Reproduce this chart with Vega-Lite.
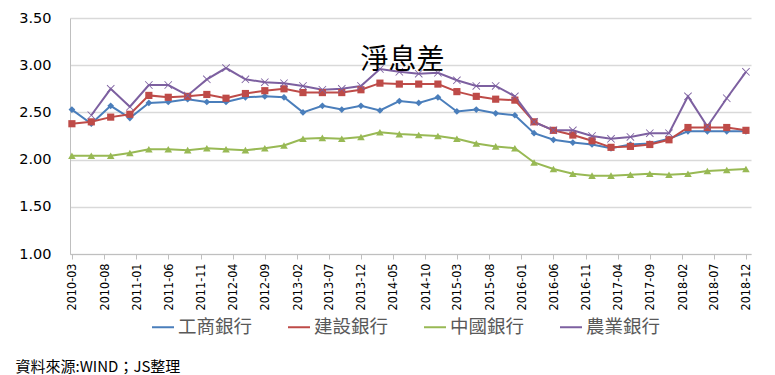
{
  "$schema": "https://vega.github.io/schema/vega-lite/v6.json",
  "width": 681,
  "height": 236,
  "autosize": {"type": "none"},
  "padding": {"left": 70, "top": 18, "right": 24, "bottom": 121},
  "background": "white",
  "title": {"text": "淨息差", "font": "Noto Sans CJK TC", "fontSize": 28, "fontWeight": "normal", "color": "#000000", "anchor": "middle", "dx": -8, "dy": 69},
  "data": {"values": [
    {"d": "2010-03-01", "工商銀行": 2.53, "建設銀行": 2.38, "中國銀行": 2.04},
    {"d": "2010-06-01", "工商銀行": 2.38, "建設銀行": 2.40, "中國銀行": 2.04, "農業銀行": 2.47},
    {"d": "2010-09-01", "工商銀行": 2.57, "建設銀行": 2.45, "中國銀行": 2.04, "農業銀行": 2.75},
    {"d": "2010-12-01", "工商銀行": 2.44, "建設銀行": 2.48, "中國銀行": 2.07, "農業銀行": 2.56},
    {"d": "2011-03-01", "工商銀行": 2.60, "建設銀行": 2.68, "中國銀行": 2.11, "農業銀行": 2.79},
    {"d": "2011-06-01", "工商銀行": 2.61, "建設銀行": 2.66, "中國銀行": 2.11, "農業銀行": 2.79},
    {"d": "2011-09-01", "工商銀行": 2.64, "建設銀行": 2.67, "中國銀行": 2.10, "農業銀行": 2.68},
    {"d": "2011-12-01", "工商銀行": 2.61, "建設銀行": 2.69, "中國銀行": 2.12, "農業銀行": 2.85},
    {"d": "2012-03-01", "工商銀行": 2.61, "建設銀行": 2.65, "中國銀行": 2.11, "農業銀行": 2.97},
    {"d": "2012-06-01", "工商銀行": 2.66, "建設銀行": 2.70, "中國銀行": 2.10, "農業銀行": 2.85},
    {"d": "2012-09-01", "工商銀行": 2.67, "建設銀行": 2.73, "中國銀行": 2.12, "農業銀行": 2.82},
    {"d": "2012-12-01", "工商銀行": 2.66, "建設銀行": 2.75, "中國銀行": 2.15, "農業銀行": 2.81},
    {"d": "2013-03-01", "工商銀行": 2.50, "建設銀行": 2.71, "中國銀行": 2.22, "農業銀行": 2.78},
    {"d": "2013-06-01", "工商銀行": 2.57, "建設銀行": 2.71, "中國銀行": 2.23, "農業銀行": 2.74},
    {"d": "2013-09-01", "工商銀行": 2.53, "建設銀行": 2.71, "中國銀行": 2.22, "農業銀行": 2.75},
    {"d": "2013-12-01", "工商銀行": 2.57, "建設銀行": 2.74, "中國銀行": 2.24, "農業銀行": 2.78},
    {"d": "2014-03-01", "工商銀行": 2.52, "建設銀行": 2.81, "中國銀行": 2.29, "農業銀行": 2.96},
    {"d": "2014-06-01", "工商銀行": 2.62, "建設銀行": 2.80, "中國銀行": 2.27, "農業銀行": 2.93},
    {"d": "2014-09-01", "工商銀行": 2.60, "建設銀行": 2.80, "中國銀行": 2.26, "農業銀行": 2.91},
    {"d": "2014-12-01", "工商銀行": 2.66, "建設銀行": 2.80, "中國銀行": 2.25, "農業銀行": 2.92},
    {"d": "2015-03-01", "工商銀行": 2.51, "建設銀行": 2.72, "中國銀行": 2.22, "農業銀行": 2.84},
    {"d": "2015-06-01", "工商銀行": 2.53, "建設銀行": 2.67, "中國銀行": 2.17, "農業銀行": 2.78},
    {"d": "2015-09-01", "工商銀行": 2.49, "建設銀行": 2.64, "中國銀行": 2.14, "農業銀行": 2.78},
    {"d": "2015-12-01", "工商銀行": 2.47, "建設銀行": 2.63, "中國銀行": 2.12, "農業銀行": 2.67},
    {"d": "2016-03-01", "工商銀行": 2.28, "建設銀行": 2.40, "中國銀行": 1.97, "農業銀行": 2.40},
    {"d": "2016-06-01", "工商銀行": 2.21, "建設銀行": 2.31, "中國銀行": 1.90, "農業銀行": 2.31},
    {"d": "2016-09-01", "工商銀行": 2.18, "建設銀行": 2.26, "中國銀行": 1.85, "農業銀行": 2.31},
    {"d": "2016-12-01", "工商銀行": 2.16, "建設銀行": 2.20, "中國銀行": 1.83, "農業銀行": 2.25},
    {"d": "2017-03-01", "工商銀行": 2.12, "建設銀行": 2.13, "中國銀行": 1.83, "農業銀行": 2.22},
    {"d": "2017-06-01", "工商銀行": 2.16, "建設銀行": 2.14, "中國銀行": 1.84, "農業銀行": 2.24},
    {"d": "2017-09-01", "工商銀行": 2.17, "建設銀行": 2.16, "中國銀行": 1.85, "農業銀行": 2.28},
    {"d": "2017-12-01", "工商銀行": 2.22, "建設銀行": 2.21, "中國銀行": 1.84, "農業銀行": 2.28},
    {"d": "2018-03-01", "工商銀行": 2.30, "建設銀行": 2.34, "中國銀行": 1.85, "農業銀行": 2.67},
    {"d": "2018-06-01", "工商銀行": 2.30, "建設銀行": 2.34, "中國銀行": 1.88, "農業銀行": 2.35},
    {"d": "2018-09-01", "工商銀行": 2.30, "建設銀行": 2.34, "中國銀行": 1.89, "農業銀行": 2.65},
    {"d": "2018-12-01", "工商銀行": 2.30, "建設銀行": 2.31, "中國銀行": 1.90, "農業銀行": 2.93}
  ]},
  "transform": [{"fold": ["工商銀行", "建設銀行", "中國銀行", "農業銀行"], "as": ["bank", "v"]}],
  "encoding": {
    "x": {
      "field": "d", "type": "temporal",
      "scale": {"type": "utc", "domain": [{"year": 2010, "month": 2, "date": 20, "utc": true}, {"year": 2018, "month": 12, "date": 25, "utc": true}]},
      "axis": {
        "values": [
          {"year": 2010, "month": 3, "date": 1, "utc": true},
          {"year": 2010, "month": 8, "date": 1, "utc": true},
          {"year": 2011, "month": 1, "date": 1, "utc": true},
          {"year": 2011, "month": 6, "date": 1, "utc": true},
          {"year": 2011, "month": 11, "date": 1, "utc": true},
          {"year": 2012, "month": 4, "date": 1, "utc": true},
          {"year": 2012, "month": 9, "date": 1, "utc": true},
          {"year": 2013, "month": 2, "date": 1, "utc": true},
          {"year": 2013, "month": 7, "date": 1, "utc": true},
          {"year": 2013, "month": 12, "date": 1, "utc": true},
          {"year": 2014, "month": 5, "date": 1, "utc": true},
          {"year": 2014, "month": 10, "date": 1, "utc": true},
          {"year": 2015, "month": 3, "date": 1, "utc": true},
          {"year": 2015, "month": 8, "date": 1, "utc": true},
          {"year": 2016, "month": 1, "date": 1, "utc": true},
          {"year": 2016, "month": 6, "date": 1, "utc": true},
          {"year": 2016, "month": 11, "date": 1, "utc": true},
          {"year": 2017, "month": 4, "date": 1, "utc": true},
          {"year": 2017, "month": 9, "date": 1, "utc": true},
          {"year": 2018, "month": 2, "date": 1, "utc": true},
          {"year": 2018, "month": 7, "date": 1, "utc": true},
          {"year": 2018, "month": 12, "date": 1, "utc": true}
        ],
        "labelExpr": "utcFormat(datum.value, '%Y-%m')",
        "labelAngle": 270,
        "labelOverlap": false,
        "labelBound": false,
        "labelFlush": false,
        "labelFont": "DejaVu Sans Condensed",
        "labelFontSize": 12.5,
        "labelColor": "#000000",
        "labelPadding": 4,
        "tickColor": "#bfbfbf",
        "tickSize": 5,
        "domainColor": "#bfbfbf",
        "grid": false,
        "title": "資料來源:WIND；JS整理",
        "titleFont": "Noto Sans CJK TC",
        "titleFontSize": 15,
        "titleFontWeight": "normal",
        "titleColor": "#000000",
        "titleX": -55,
        "titleY": 120,
        "titleAlign": "left",
        "titleAnchor": "start",
        "titleBaseline": "bottom"
      }
    },
    "y": {
      "field": "v", "type": "quantitative",
      "scale": {"domain": [1, 3.5], "nice": false, "zero": false},
      "axis": {
        "values": [1, 1.5, 2, 2.5, 3, 3.5],
        "format": ".2f",
        "title": null,
        "labelFont": "DejaVu Sans",
        "labelFontSize": 14.5,
        "labelColor": "#000000",
        "ticks": false,
        "tickSize": 0,
        "labelPadding": 19,
        "domainColor": "#bfbfbf",
        "gridColor": "#d9d9d9",
        "gridWidth": 1.5
      }
    }
  },
  "layer": [
    {
      "mark": {"type": "line", "strokeWidth": 2},
      "encoding": {
        "stroke": {
          "field": "bank", "type": "nominal",
          "scale": {"domain": ["工商銀行", "建設銀行", "中國銀行", "農業銀行"], "range": ["#4a7ebb", "#be4b48", "#98b954", "#7d60a0"]},
          "legend": {
            "orient": "none", "legendX": 81, "legendY": 297, "direction": "horizontal", "title": null,
            "symbolType": "stroke", "symbolSize": 484, "symbolStrokeWidth": 2,
            "labelFont": "Noto Sans CJK TC", "labelFontSize": 18.5, "labelColor": "#595959",
            "columnPadding": 31, "labelOffset": 3
          }
        }
      }
    },
    {
      "mark": {"type": "point", "filled": true, "opacity": 1},
      "encoding": {
        "fill": {
          "field": "bank", "type": "nominal",
          "scale": {"domain": ["工商銀行", "建設銀行", "中國銀行", "農業銀行"], "range": ["#4a7ebb", "#be4b48", "#98b954", "#7d60a0"]},
          "legend": null
        },
        "shape": {
          "field": "bank", "type": "nominal",
          "scale": {"domain": ["工商銀行", "建設銀行", "中國銀行", "農業銀行"], "range": ["diamond", "square", "triangle-up", "M-0.85,-1L1,0.85L0.85,1L-1,-0.85ZM0.85,-1L1,-0.85L-0.85,1L-1,0.85Z"]},
          "legend": null
        },
        "size": {
          "field": "bank", "type": "nominal",
          "scale": {"domain": ["工商銀行", "建設銀行", "中國銀行", "農業銀行"], "range": [45, 64, 60, 70]},
          "legend": null
        }
      }
    }
  ],
  "resolve": {"scale": {"shape": "independent", "fill": "independent", "size": "independent"}, "legend": {"stroke": "independent", "shape": "independent", "fill": "independent", "size": "independent"}},
  "config": {"view": {"stroke": null}}
}
